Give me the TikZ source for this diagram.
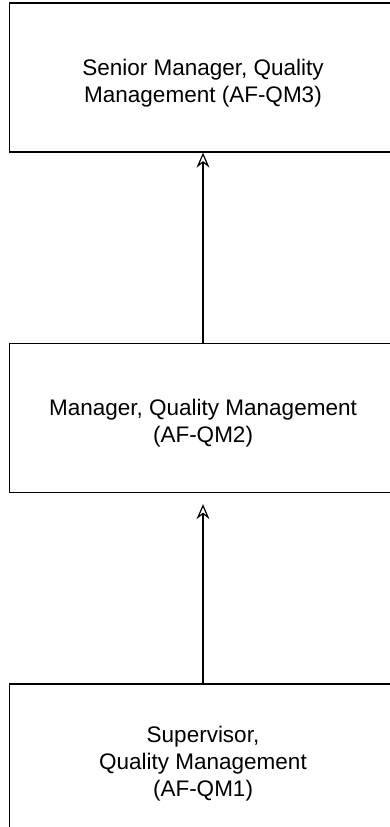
\documentclass[tikz,border=0pt]{standalone}
\usepackage{fontspec}
\setmainfont{Liberation Sans}
\usepackage{tikz}
\usetikzlibrary{
  arrows.meta,
  positioning
}
\tikzset{
  >=stealth,
  line cap=round,
  line join=round,
  rolebox/.style={draw, line width=1.3pt, minimum width=387pt, minimum height=149pt,
    align=center, inner sep=0pt, font=\fontsize{22.5}{27}\selectfont},
  uparrow/.style={-{Stealth[open, length=15pt, width=13pt, inset=5pt]}, line width=1.2pt}
}
% invisible strut, pushes the text a little down in its box
\newcommand{\dropstrut}{\rule{0pt}{27pt}}

\begin{document}
\begin{tikzpicture}[x=1pt, y=1pt]
  \useasboundingbox (0,0) rectangle (390,-827);

  \node[rolebox] (senior) at (203,-77.5) {\dropstrut Senior Manager, Quality\\Management (AF-QM3)};
  \node[rolebox] (manager) at (203,-418) {\dropstrut Manager, Quality Management\\(AF-QM2)};
  \node[rolebox] (supervisor) at (203,-758.5) {\dropstrut Supervisor,\\Quality Management\\(AF-QM1)};

  \draw[uparrow] (manager) -- (senior);
  \draw[uparrow, shorten >=11pt] (supervisor) -- (manager);
\end{tikzpicture}
\end{document}
